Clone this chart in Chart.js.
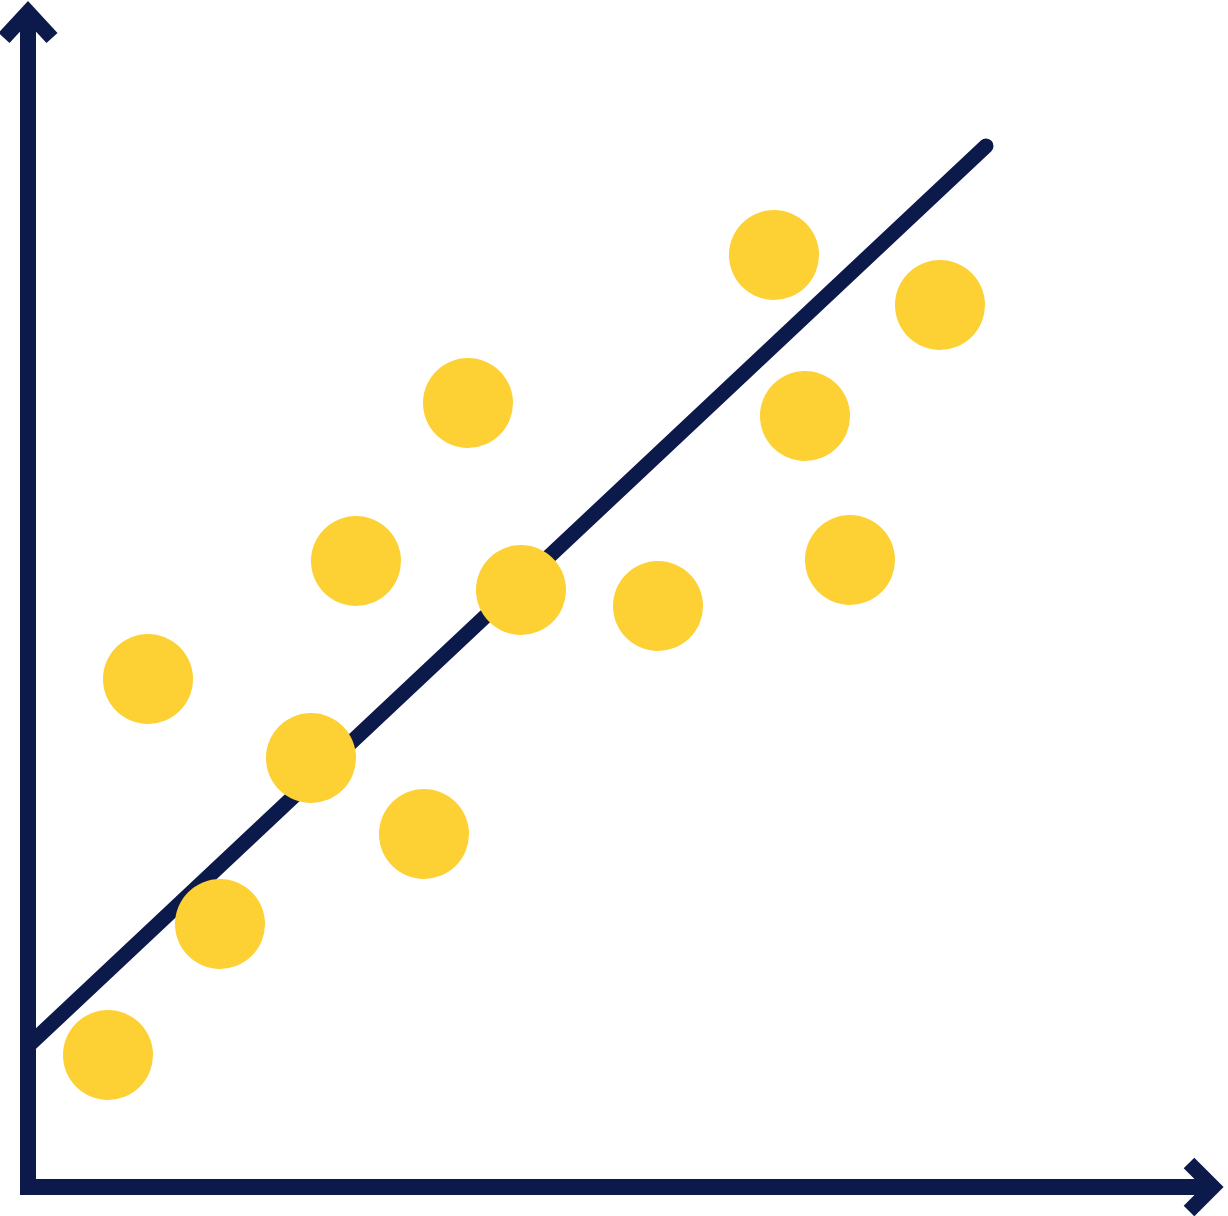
<!DOCTYPE html>
<html>
<head>
<meta charset="utf-8">
<script src="https://cdn.jsdelivr.net/npm/chart.js@4/dist/chart.umd.min.js"></script>
<style>
  html, body { margin: 0; padding: 0; background: #ffffff; }
  #wrap { width: 1228px; height: 1216px; position: relative; }
</style>
</head>
<body>
<div id="wrap"><canvas id="c" width="1228" height="1216"></canvas></div>
<script>
// Scatter observations
const pointX = [8.0, 19.2, 12.0, 28.3, 39.6, 32.8, 44.0, 49.3, 63.0, 74.6, 77.7, 82.2, 91.2];
const pointY = [13.2, 26.3, 50.8, 42.9, 35.3, 62.6, 78.4, 59.7, 58.1, 93.2, 77.1, 62.7, 88.2];
// Trend line end points
const trendX = [0, 95.8];
const trendY = [14.1, 104.1];
// Axis extents
const xRange = [-2.8, 120.0];
const yRange = [-2.9, 118.7];
const axisEnd = { x: 119.4, y: 118.7 };

const NAVY = '#0c1a4b';
const YELLOW = '#fdd034';

const scatterData = pointX.map((x, i) => ({ x: x, y: pointY[i] }));
const trendData = trendX.map((x, i) => ({ x: x, y: trendY[i] }));

const axesPlugin = {
  id: 'arrowAxes',
  afterDatasetsDraw(chart) {
    const ctx = chart.ctx;
    const xs = chart.scales.x, ys = chart.scales.y;
    const ox = xs.getPixelForValue(0), oy = ys.getPixelForValue(0);
    const ex = xs.getPixelForValue(axisEnd.x), ey = ys.getPixelForValue(axisEnd.y);
    ctx.save();
    ctx.strokeStyle = NAVY;
    ctx.lineWidth = 16;
    ctx.lineJoin = 'miter';
    ctx.lineCap = 'butt';
    // axes
    ctx.beginPath();
    ctx.moveTo(ox, ey + 10);
    ctx.lineTo(ox, oy);
    ctx.lineTo(ex - 8, oy);
    ctx.stroke();
    // vertical arrowhead
    ctx.lineWidth = 15;
    ctx.beginPath();
    ctx.moveTo(ox - 24, ey + 38);
    ctx.lineTo(ox, ey + 12);
    ctx.lineTo(ox + 24, ey + 38);
    ctx.stroke();
    // horizontal arrowhead
    ctx.beginPath();
    ctx.moveTo(ex - 33, oy - 24);
    ctx.lineTo(ex - 9, oy);
    ctx.lineTo(ex - 33, oy + 24);
    ctx.stroke();
    ctx.restore();
  }
};

new Chart(document.getElementById('c'), {
  type: 'scatter',
  data: {
    datasets: [
      {
        type: 'scatter',
        data: scatterData,
        pointRadius: 45,
        pointHoverRadius: 45,
        pointBackgroundColor: YELLOW,
        pointBorderColor: YELLOW,
        pointBorderWidth: 0,
        clip: false,
        order: 0
      },
      {
        type: 'line',
        data: trendData,
        borderColor: NAVY,
        borderWidth: 15,
        borderCapStyle: 'round',
        pointRadius: 0,
        fill: false,
        clip: false,
        order: 1
      }
    ]
  },
  options: {
    responsive: false,
    animation: false,
    layout: { padding: 0, autoPadding: false },
    plugins: { legend: { display: false }, tooltip: { enabled: false } },
    scales: {
      x: { type: 'linear', display: false, min: xRange[0], max: xRange[1] },
      y: { type: 'linear', display: false, min: yRange[0], max: yRange[1] }
    }
  },
  plugins: [axesPlugin]
});
</script>
</body>
</html>
